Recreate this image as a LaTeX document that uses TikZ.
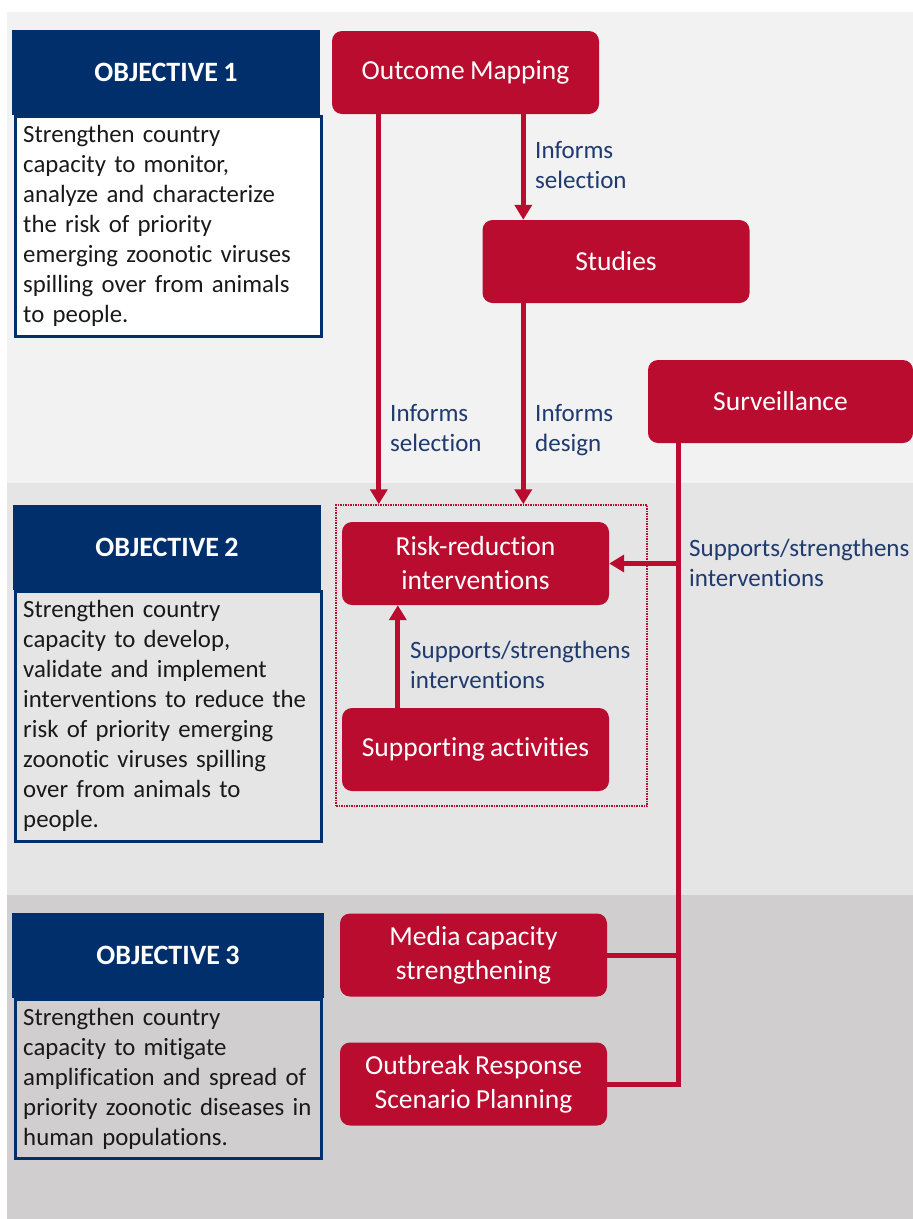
\documentclass[tikz,border=0pt]{standalone}
\usepackage{fontspec}
\setmainfont{Carlito}[Ligatures=NoCommon,WordSpace=0.85]
\usepackage{xcolor}
\usepackage{tikz}
\usetikzlibrary{arrows.meta}

\definecolor{bandA}{HTML}{F2F2F2}
\definecolor{bandB}{HTML}{E5E5E5}
\definecolor{bandC}{HTML}{D0CECE}
\definecolor{objblue}{HTML}{002F6C}
\definecolor{boxred}{HTML}{BA0C2F}
\definecolor{lblblue}{HTML}{1F3A6E}

\begin{document}
\begin{tikzpicture}[x=1pt,y=-1pt,
    objhead/.style={fill=objblue,text=white,minimum width=308pt,minimum height=85pt,
      inner sep=0pt,font=\fontsize{28}{32}\selectfont\bfseries},
    objtext/.style={draw=objblue,line width=2.5pt,anchor=north west,text width=290pt,
      inner xsep=8pt,align=left,font=\fontsize{24.8}{30}\selectfont,text=black!90},
    redbox/.style={fill=boxred,text=white,rounded corners=10pt,minimum width=267pt,
      minimum height=83pt,align=center,font=\fontsize{27.5}{34}\selectfont},
    lbl/.style={anchor=west,align=left,text=lblblue,inner sep=0pt,
      font=\fontsize{25}{30}\selectfont},
    conn/.style={draw=boxred,line width=5pt},
    arr/.style={conn,-{Triangle[width=17pt,length=15pt]}}]
		\useasboundingbox (0,0) rectangle (913,1219);
		% bands
		\fill[bandA] (7,12) rectangle (913,483);
		\fill[bandB] (7,483) rectangle (913,895);
		\fill[bandC] (7,895) rectangle (913,1219);

		% objectives
		\node[objhead] (o1) at (166,72.5) {OBJECTIVE 1};
		\node[objtext,fill=white,minimum height=220pt] (o1t) at (14,115) {Strengthen country\\capacity to monitor,\\analyze and characterize\\the risk of priority\\emerging zoonotic viruses\\spilling over from animals\\to people.};
		\node[objhead] (o2) at (167,547.5) {OBJECTIVE 2};
		\node[objtext,minimum height=250pt] (o2t) at (14,590) {Strengthen country\\capacity to develop,\\validate and implement\\interventions to reduce the\\risk of priority emerging\\zoonotic viruses spilling\\over from animals to\\people.};
		\node[objhead,minimum width=312pt] (o3) at (168,955.5) {OBJECTIVE 3};
		\node[objtext,minimum height=159pt] (o3t) at (14,998) {Strengthen country\\capacity to mitigate\\amplification and spread of\\priority zoonotic diseases in\\human populations.};

		% activities
		\node[redbox] (om) at (465.5,72.5) {Outcome Mapping};
		\node[redbox] (st) at (616,261.5) {Studies};
		\node[redbox,minimum width=265pt] (sv) at (780.5,401.5) {Surveillance};
		\node[redbox] (rr) at (475.5,563.5) {Risk-reduction\\interventions};
		\node[redbox] (sa) at (475.5,749.5) {Supporting activities};
		\node[redbox] (md) at (473.5,955) {Media capacity\\strengthening};
		\node[redbox] (ob) at (473.5,1084) {Outbreak Response\\Scenario Planning};
		\node[draw=boxred,densely dotted,line width=1.5pt,minimum width=311pt,minimum height=301pt,
		  inner sep=0pt] (grp) at (491.5,655.5) {};

		% connectors
		\coordinate (omx) at ([xshift=47pt]om.south west);
		\coordinate (stx) at ([xshift=41pt]st.north west);
		\coordinate (svx) at ([xshift=31pt]sv.south west);
		\coordinate (sax) at ([xshift=56pt]sa.north west);
		\draw[arr] (omx) -- (omx |- grp.north);
		\draw[arr] (stx |- om.south) -- (stx);
		\draw[arr] (stx |- st.south) -- (stx |- grp.north);
		\draw[conn] (svx) |- (ob.east);
		\draw[arr] (svx |- rr.east) -- (rr.east);
		\draw[conn] (svx |- md.east) -- (md.east);
		\draw[arr] (sax) -- (sax |- rr.south);

		% labels
		\node[lbl] (l1) at (535,165) {Informs\\selection};
		\node[lbl] (l2) at (390,428) {Informs\\selection};
		\node[lbl] (l3) at (535,430) {Informs\\design};
		\node[lbl] (l4) at (689,563) {Supports/strengthens\\interventions};
		\node[lbl] (l5) at (410,665) {Supports/strengthens\\interventions};
	\end{tikzpicture}
\end{document}
